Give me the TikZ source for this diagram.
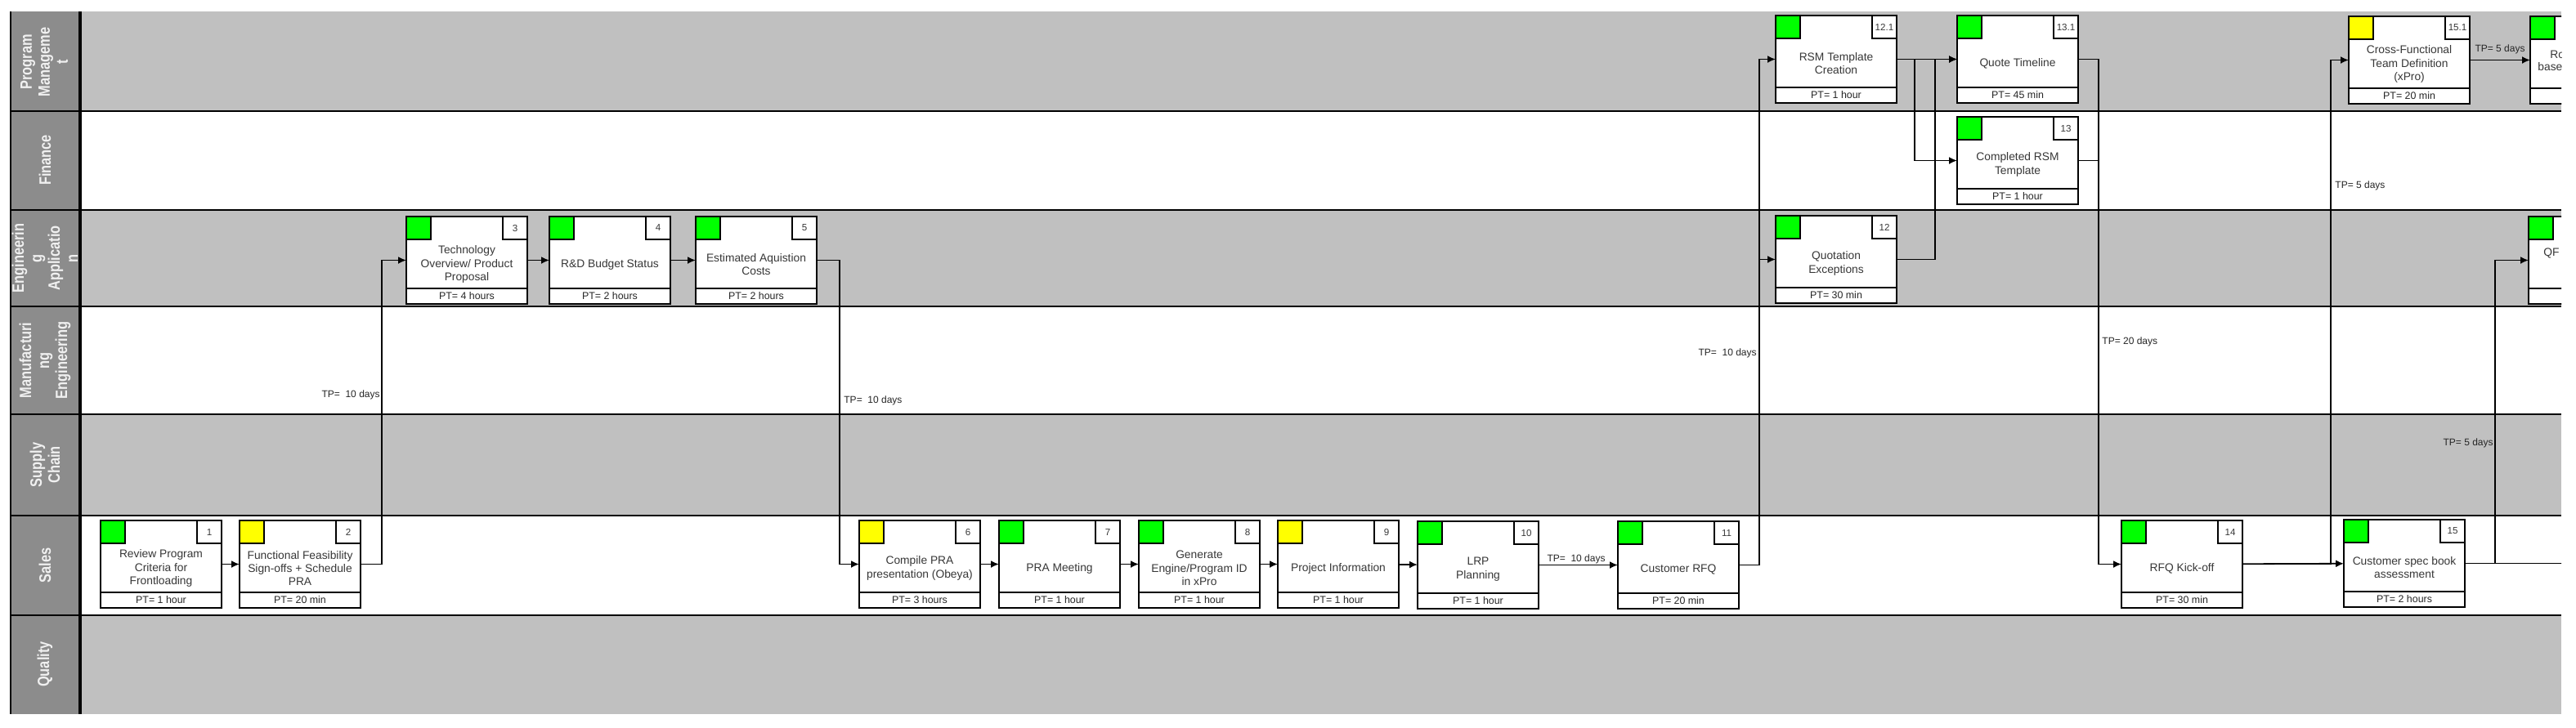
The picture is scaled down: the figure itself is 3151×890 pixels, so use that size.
\documentclass[tikz,border=0pt]{standalone}
\usepackage{fontspec}
\setmainfont{Liberation Sans}
\newfontfamily\lanefont{Liberation Sans}[FakeStretch=0.82]
\usetikzlibrary{arrows.meta,calc}
\definecolor{laneGray}{RGB}{192,192,192}
\definecolor{colHead}{RGB}{140,140,140}
\definecolor{flagG}{RGB}{0,255,0}
\definecolor{flagY}{RGB}{255,255,0}
\definecolor{txtgray}{RGB}{55,55,55}
\tikzset{
  taskbox/.style={draw, line width=1pt, fill=white, minimum width=74pt, minimum height=53.5pt, inner sep=0pt, outer sep=0pt},
  flagbox/.style={draw, line width=0.8pt, minimum width=15pt, minimum height=14pt, inner sep=0pt, outer sep=0pt, anchor=north west},
  numbox/.style={draw, line width=0.8pt, fill=white, minimum width=15pt, minimum height=14pt, inner sep=0pt, outer sep=0pt, anchor=north east, font=\fontsize{5.8}{6}\selectfont, text=txtgray},
  ptbox/.style={draw, line width=0.8pt, minimum width=74pt, minimum height=9.5pt, inner sep=0pt, outer sep=0pt, anchor=south, font=\fontsize{6.2}{7}\selectfont, text=black!85},
  tasktext/.style={align=center, font=\fontsize{6.9}{8.2}\selectfont, text=txtgray, inner sep=0pt},
  conn/.style={line width=0.9pt, -{Latex[length=5pt,width=4.5pt]}},
  wire/.style={line width=0.9pt},
  tplbl/.style={font=\fontsize{6}{7}\selectfont, inner sep=0.5pt, text=black!85},
  lanelbl/.style={rotate=90, align=center, text=white!94!black, font=\lanefont\bfseries\fontsize{10}{11}\selectfont, inner sep=0pt},
  lanesep/.style={line width=1pt}
}
% name, x, y (top-left), colour, number, text, PT row
\newcommand\task[7]{%
  \node[taskbox, anchor=north west] (#1) at (#2,#3) {};
  \node[flagbox, fill=#4] (#1-f) at (#1.north west) {};
  \node[numbox] (#1-n) at (#1.north east) {#5};
  \node[ptbox] (#1-p) at (#1.south) {#7};
  \node[tasktext] (#1-t) at ($(#1.center)+(0,5)$) {#6};
}
\begin{document}
\begin{tikzpicture}[x=0.5pt,y=-0.5pt]
\useasboundingbox (0,0) rectangle (3151,890);
\begin{scope}
\clip (0,0) rectangle (3133,890);
% lanes
\fill[laneGray] (98,14) rectangle (3133,136);
\fill[white]    (98,136) rectangle (3133,257);
\fill[laneGray] (98,257) rectangle (3133,375);
\fill[white]    (98,375) rectangle (3133,507);
\fill[laneGray] (98,507) rectangle (3133,631);
\fill[white]    (98,631) rectangle (3133,753);
\fill[laneGray] (98,753) rectangle (3133,874);
\fill[colHead] (13,14) rectangle (98,874);
\foreach \yy in {136,257,375,507,631,753} {\draw[lanesep] (13,\yy) -- (3133,\yy);}
\draw[line width=0.8pt] (13,14) -- (13,874);
\draw[line width=1.6pt] (98,14) -- (98,874);
% lane labels
\node[lanelbl] (L1) at (54,76) {Program\\Manageme\\t};
\node[lanelbl] (L2) at (55,196) {Finance};
\node[lanelbl] (L3) at (55,316) {Engineerin\\g\\Applicatio\\n};
\node[lanelbl] (L4) at (55,441) {Manufacturi\\ng\\Engineering};
\node[lanelbl] (L5) at (55,569) {Supply\\Chain};
\node[lanelbl] (L6) at (55,692) {Sales};
\node[lanelbl] (L7) at (55,813) {Quality};
% tasks
\task{n1}{123}{637}{flagG}{1}{Review Program\\Criteria for\\Frontloading}{PT= 1 hour}
\task{n2}{293}{637}{flagY}{2}{Functional Feasibility\\Sign-offs + Schedule\\PRA}{PT= 20 min}
\task{n3}{497}{265}{flagG}{3}{Technology\\Overview/ Product\\Proposal}{PT= 4 hours}
\task{n4}{672}{265}{flagG}{4}{R\&D Budget Status}{PT= 2 hours}
\task{n5}{851}{265}{flagG}{5}{Estimated Aquistion\\Costs}{PT= 2 hours}
\task{n6}{1051}{637}{flagY}{6}{Compile PRA\\presentation (Obeya)}{PT= 3 hours}
\task{n7}{1222}{637}{flagG}{7}{PRA Meeting}{PT= 1 hour}
\task{n8}{1393}{637}{flagG}{8}{Generate\\Engine/Program ID\\in xPro}{PT= 1 hour}
\task{n9}{1563}{637}{flagY}{9}{Project Information}{PT= 1 hour}
\task{n10}{1734}{638}{flagG}{10}{LRP\\Planning}{PT= 1 hour}
\task{n11}{1979}{638}{flagG}{11}{Customer RFQ}{PT= 20 min}
\task{n12}{2172}{264}{flagG}{12}{Quotation\\Exceptions}{PT= 30 min}
\task{n121}{2172}{19}{flagG}{12.1}{RSM Template\\Creation}{PT= 1 hour}
\task{n131}{2394}{19}{flagG}{13.1}{Quote Timeline}{PT= 45 min}
\task{n13}{2394}{143}{flagG}{13}{Completed RSM\\Template}{PT= 1 hour}
\task{n14}{2595}{637}{flagG}{14}{RFQ Kick-off}{PT= 30 min}
\task{n15}{2867}{636}{flagG}{15}{Customer spec book\\assessment}{PT= 2 hours}
\task{n151}{2873}{20}{flagY}{15.1}{Cross-Functional\\Team Definition\\(xPro)}{PT= 20 min}
\task{nR}{3095}{20}{flagG}{}{}{}
\task{nQF}{3093}{265}{flagG}{}{}{}
\node[tasktext, anchor=west] (nR-a) at (3119,67) {Ro};
\node[tasktext, anchor=west] (nR-b) at (3104,82) {base};
\node[tasktext, anchor=west] (nQF-a) at (3111,310) {QF};
\coordinate (offR) at (3140,0);
% connectors
\draw[conn] (n1) -- (n2);
\draw[conn] (n2.east) -- ++(26,0) |- (n3.west);
\draw[conn] (n3) -- (n4);
\draw[conn] (n4) -- (n5);
\draw[conn] (n5.east) -- ++(28,0) |- (n6.west);
\draw[conn] (n6) -- (n7);
\draw[conn] (n7) -- (n8);
\draw[conn] (n8) -- (n9);
\draw[conn] (n9) -- (n10);
\draw[conn] (n10) -- (n11);
\draw[conn] (n11.east) -- ++(25,0) |- (n121.west);
\draw[conn] ($(n11.east)+(25,0)$) |- (n12.west);
\draw[conn] (n121) -- (n131);
\draw[conn] (n121.east) -- ++(22,0) |- (n13.west);
\draw[conn] (n12.east) -- ++(47,0) |- (n131.west);
\draw[conn] (n131.east) -- ++(25,0) |- (n14.west);
\draw[wire] (n13.east) -- ++(25,0);
\draw[conn] (n14) -- (n15);
\draw[conn] (n14.east) -- ++(108,0) |- (n151.west);
\draw[conn] (n151) -- (nR);
\draw[conn] (n15.east) -- ++(37,0) |- (nQF.west);
\draw[wire] (n15.east) -- (n15.east -| offR);
% time labels
\node[tplbl, anchor=east] (tp1) at (466,483) {TP=\ \ 10 days};
\node[tplbl, anchor=west] (tp2) at (1031,490) {TP=\ \ 10 days};
\node[tplbl] (tp3) at (1928,684) {TP=\ \ 10 days};
\node[tplbl, anchor=east] (tp4) at (2150,432) {TP=\ \ 10 days};
\node[tplbl, anchor=west] (tp5) at (2570,418) {TP= 20 days};
\node[tplbl, anchor=west] (tp6) at (2855,227) {TP= 5 days};
\node[tplbl] (tp7) at (3058,60) {TP= 5 days};
\node[tplbl, anchor=east] (tp8) at (3051,542) {TP= 5 days};
\end{scope}
\end{tikzpicture}
\end{document}
